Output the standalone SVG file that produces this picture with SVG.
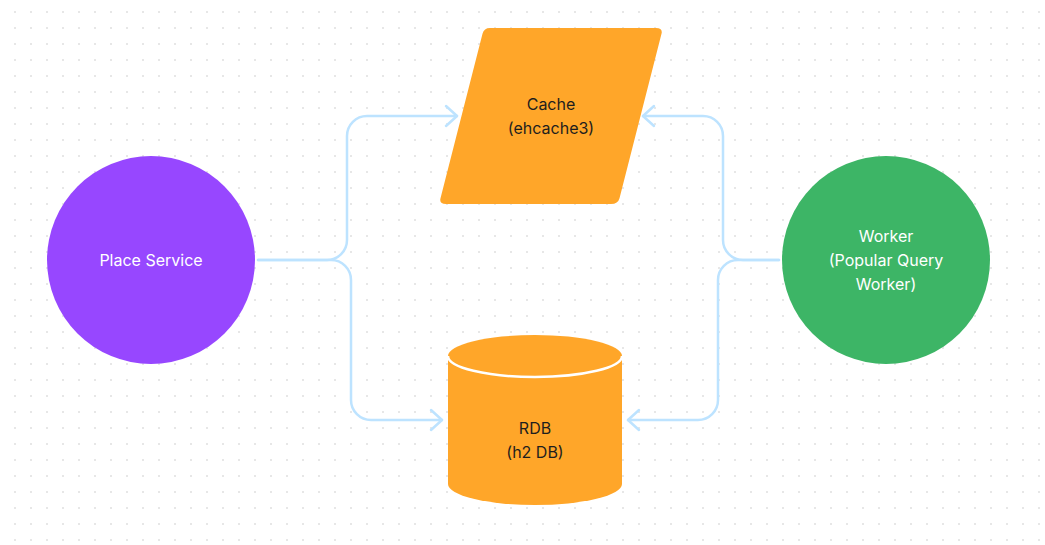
<svg xmlns="http://www.w3.org/2000/svg" width="1045" height="545" viewBox="0 0 1045 545">
<style>
.lbl{font-family:Inter,"Liberation Sans",sans-serif;font-size:16px;text-anchor:middle}
.dark{fill:#1e1e1e}
.light{fill:#ffffff}
.conn{fill:none;stroke:#bde3ff;stroke-width:2.5;stroke-linecap:round;stroke-linejoin:round}
</style>
<defs>
<pattern id="dots" x="0" y="0" width="16" height="16" patternUnits="userSpaceOnUse">
<circle cx="15" cy="12" r="0.9" fill="#dcdcdc"/>
</pattern>
<marker id="arr" markerUnits="userSpaceOnUse" markerWidth="30" markerHeight="30" refX="0" refY="0" viewBox="-15 -15 30 30" orient="auto" overflow="visible">
<path d="M-11,-10 L0,0 L-11,10" fill="none" stroke="#bde3ff" stroke-width="2.5" stroke-linecap="round" stroke-linejoin="round"/>
</marker>
</defs>
<rect width="1045" height="545" fill="#ffffff"/>
<rect width="1045" height="545" fill="url(#dots)"/>
<g id="connectors">
<path class="conn" marker-end="url(#arr)" d="M258,260 H327 A20,20 0 0 0 347,240 V136 A20,20 0 0 1 367,116 H457"/>
<path class="conn" marker-end="url(#arr)" d="M258,260 H331 A20,20 0 0 1 351,280 V400 A20,20 0 0 0 371,420 H442"/>
<path class="conn" marker-end="url(#arr)" d="M779,260 H743 A20,20 0 0 1 723,240 V136 A20,20 0 0 0 703,116 H643"/>
<path class="conn" marker-end="url(#arr)" d="M779,260 H738 A20,20 0 0 0 718,280 V400 A20,20 0 0 1 698,420 H628"/>
</g>
<g id="place-service">
<circle cx="151" cy="260" r="104" fill="#9747ff"/>
<text class="lbl light" x="151" y="266">Place Service</text>
</g>
<g id="worker">
<circle cx="886" cy="260" r="104" fill="#3db566"/>
<text class="lbl light" x="886" y="242">Worker</text>
<text class="lbl light" x="886" y="266">(Popular Query</text>
<text class="lbl light" x="886" y="290">Worker)</text>
</g>
<g id="cache">
<path fill="#ffa629" d="M490,28 H656 Q663,28 661.5,33.8 L619.5,198.2 Q618,204 611,204 H446 Q439,204 440.5,198.2 L482.5,33.8 Q484,28 490,28 Z"/>
<text class="lbl dark" x="551" y="110">Cache</text>
<text class="lbl dark" x="551" y="134">(ehcache3)</text>
</g>
<g id="rdb">
<path fill="#ffa629" d="M448,356 V484 A87,21 0 0 0 622,484 V356 Z"/>
<ellipse cx="535" cy="356" rx="87" ry="21" fill="#ffa629"/>
<path d="M448,356 A87,21 0 0 0 622,356" fill="none" stroke="#ffffff" stroke-width="2.5"/>
<text class="lbl dark" x="535" y="434">RDB</text>
<text class="lbl dark" x="535" y="458">(h2 DB)</text>
</g>
</svg>
